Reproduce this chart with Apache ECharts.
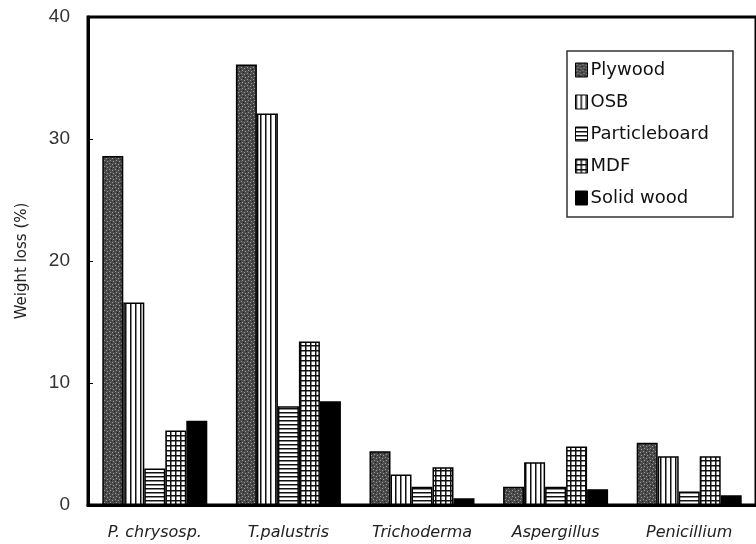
<!DOCTYPE html>
<html>
<head>
<meta charset="utf-8">
<script src="https://cdn.jsdelivr.net/npm/echarts@6/dist/echarts.min.js"></script>
<style>
  html, body { margin: 0; padding: 0; background: #fff; }
  #chart { width: 756px; height: 544px; }
</style>
</head>
<body>
<div id="chart"></div>
<script>
var categories = ['P. chrysosp.', 'T.palustris', 'Trichoderma', 'Aspergillus', 'Penicillium'];
var seriesNames = ['Plywood', 'OSB', 'Particleboard', 'MDF', 'Solid wood'];
var plywood = [28.6, 36.1, 4.4, 1.5, 5.1];
var osb = [16.6, 32.1, 2.5, 3.5, 4.0];
var particleboard = [3.0, 8.1, 1.5, 1.5, 1.1];
var mdf = [6.1, 13.4, 3.1, 4.8, 4.0];
var solidWood = [6.9, 8.5, 0.55, 1.3, 0.8];
var yTicks = [0, 10, 20, 30, 40];

// hatch patterns drawn on small canvases
function makePattern(w, h, draw) {
    var c = document.createElement('canvas');
    c.width = w; c.height = h;
    var ctx = c.getContext('2d');
    draw(ctx, w, h);
    return { image: c, repeat: 'repeat' };
}
var stipple = makePattern(6, 6, function (ctx, w, h) {
    ctx.fillStyle = '#4a4a4a';
    ctx.fillRect(0, 0, w, h);
    ctx.fillStyle = '#9a9a9a';
    ctx.fillRect(1, 1, 1, 1);
    ctx.fillRect(4, 2, 1, 1);
    ctx.fillRect(2, 4, 1, 1);
    ctx.fillRect(5, 5, 1, 1);
    ctx.fillStyle = '#222';
    ctx.fillRect(3, 0, 1, 1);
    ctx.fillRect(0, 3, 1, 1);
});
var vLines = makePattern(5, 5, function (ctx, w, h) {
    ctx.fillStyle = '#fff';
    ctx.fillRect(0, 0, w, h);
    ctx.fillStyle = '#111';
    ctx.fillRect(0, 0, 1.5, h);
});
var hLines = makePattern(5, 4, function (ctx, w, h) {
    ctx.fillStyle = '#fff';
    ctx.fillRect(0, 0, w, h);
    ctx.fillStyle = '#111';
    ctx.fillRect(0, 0, w, 1.5);
});
var grid = makePattern(5, 5, function (ctx, w, h) {
    ctx.fillStyle = '#fff';
    ctx.fillRect(0, 0, w, h);
    ctx.fillStyle = '#111';
    ctx.fillRect(0, 0, w, 1.5);
    ctx.fillRect(0, 0, 1.5, h);
});

var fills = [stipple, vLines, hLines, grid, '#000'];
var values = [plywood, osb, particleboard, mdf, solidWood];

var myChart = echarts.init(document.getElementById('chart'));
var option = {
    backgroundColor: '#fff',
    animation: false,
    grid: {
        left: 88,
        right: -7,
        top: 17,
        bottom: 39,
        show: true,
        borderColor: '#000',
        borderWidth: 3
    },
    legend: {
        data: seriesNames,
        orient: 'vertical',
        left: 567,
        top: 51,
        padding: [10, 24, 10, 8],
        itemGap: 14,
        itemWidth: 12,
        itemHeight: 14,
        icon: 'rect',
        itemStyle: { borderColor: '#000', borderWidth: 1 },
        borderColor: '#333',
        borderWidth: 1.5,
        textStyle: { fontFamily: 'DejaVu Sans', fontSize: 18, color: '#111', padding: [0, 0, 0, -2] }
    },
    xAxis: {
        type: 'category',
        data: categories,
        axisLine: { lineStyle: { color: '#000', width: 3 } },
        axisTick: { show: false },
        axisLabel: {
            interval: 0,
            margin: 20,
            fontFamily: 'DejaVu Sans',
            fontStyle: 'italic',
            fontSize: 16,
            color: '#222'
        }
    },
    yAxis: {
        type: 'value',
        min: 0,
        max: 40,
        interval: 10,
        name: 'Weight loss (%)',
        nameLocation: 'middle',
        nameGap: 58,
        nameTextStyle: { fontFamily: 'DejaVu Sans', fontSize: 15, color: '#222' },
        axisLine: { show: true, lineStyle: { color: '#000', width: 3 } },
        axisTick: { show: true, inside: true, length: 5, lineStyle: { color: '#000', width: 1 } },
        splitLine: { show: false },
        axisLabel: {
            margin: 18,
            fontFamily: 'Liberation Sans',
            fontSize: 19,
            color: '#333',
            formatter: function (v) { return yTicks.indexOf(v) >= 0 ? String(v) : ''; }
        }
    },
    series: seriesNames.map(function (name, i) {
        return {
            name: name,
            type: 'bar',
            data: values[i],
            barWidth: 21,
            barGap: '0%',
            itemStyle: {
                color: fills[i],
                borderColor: '#000',
                borderWidth: 1.5
            }
        };
    })
};
myChart.setOption(option);
</script>
</body>
</html>
